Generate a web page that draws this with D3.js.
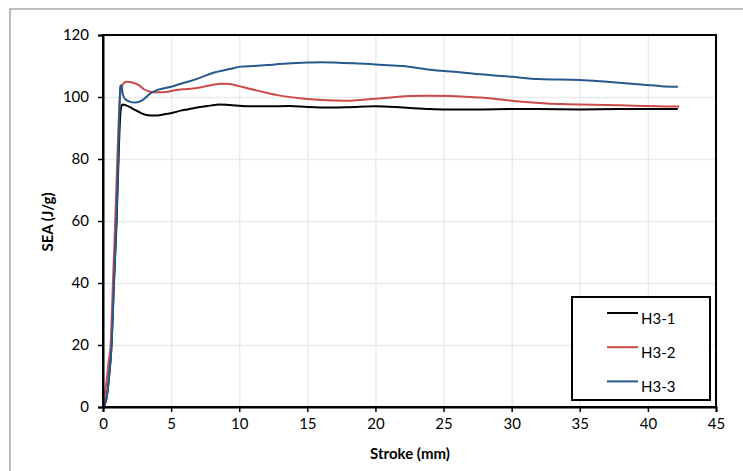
<!DOCTYPE html>
<html>
<head>
<meta charset="utf-8">
<script src="https://cdn.jsdelivr.net/npm/d3@7"></script>
<style>
  body { margin: 0; background: #fff; }
  text { font-family: Lato, "Open Sans", sans-serif; }
</style>
</head>
<body>
<div class="chart"></div>
<script>
// values
const h31X = [0,0.15,0.3,0.45,0.6,0.8,1.0,1.14,1.24,1.32,1.45,1.7,2.2,2.8,3.3,3.8,4.5,5.2,5.7,6.2,7,8,8.5,9.3,10.5,12,13.7,15,16.7,18,20,22,24,25,27.7,30,32,35,38,42.2];
const h31Y = [0,1,4,10,18,40,60,80,92,96.5,97.6,97.3,96.2,94.8,94.1,94,94.4,95,95.6,96,96.7,97.3,97.6,97.4,97,97,97.1,96.8,96.6,96.7,97,96.6,96.1,96,96,96.1,96.1,96,96.1,96.1];

const h32X = [0,0.1,0.25,0.4,0.56,0.73,0.9,1.05,1.15,1.25,1.4,1.7,2.2,2.6,3.0,3.4,4.0,4.6,5.3,6.2,7,8,8.7,9.3,10,10.6,11.7,12.8,14.5,15.5,17,18,19.3,20.5,21.5,22.5,24,25.5,26.5,27.7,29,30,31.5,32.6,34,35,37,39,40,42.3];
const h32Y = [0,3,8,14,20,40,60,80,92,100,103.5,104.9,104.6,103.9,102.5,101.8,101.5,101.6,102.2,102.6,103,103.9,104.3,104.2,103.5,102.8,101.7,100.6,99.6,99.2,98.9,98.8,99.2,99.6,100,100.3,100.4,100.3,100.1,99.8,99.3,98.8,98.2,97.9,97.7,97.6,97.4,97.2,97.1,96.9];

const h33X = [0,0.15,0.3,0.45,0.63,0.81,0.98,1.12,1.2,1.27,1.35,1.45,1.6,1.9,2.4,2.9,3.5,4.0,5.0,5.65,6.3,7,8.1,9.3,10.1,11,12,13.5,15,16,17,18.5,20.3,22,24,26.2,27.7,30,32,35,37,39.9,41,42.2];
const h33Y = [0,1,4,10,20,40,60,80,95,103.5,103.8,101,99.5,98.6,98.2,99,101.2,102.3,103.3,104.2,105,106,107.8,109,109.8,110,110.3,110.8,111.1,111.2,111.1,110.9,110.4,110,108.8,108,107.3,106.5,105.8,105.5,104.9,103.9,103.5,103.3];

const seriesNames = ["H3-1", "H3-2", "H3-3"];
const seriesColors = ["#000000", "#cc4a48", "#27598c"];
const xTicks = [0,5,10,15,20,25,30,35,40,45];
const yTicks = [0,20,40,60,80,100,120];

const series = [[h31X, h31Y], [h32X, h32Y], [h33X, h33Y]].map(([xs, ys], i) => ({
  name: seriesNames[i],
  color: seriesColors[i],
  values: xs.map((x, j) => ({x: x, y: ys[j]}))
}));

const W = 743, H = 471;
const margin = {top: 35, right: 27, bottom: 64, left: 103};
const width = W - margin.left - margin.right, height = H - margin.top - margin.bottom;

const root = d3.select('.chart')
  .append('svg')
  .attr('width', W)
  .attr('height', H);

// outer chart frame (runs off the right/bottom of the picture)
root.append('rect')
  .attr('x', 10).attr('y', 9)
  .attr('width', W + 20).attr('height', H + 20)
  .attr('fill', 'none')
  .attr('stroke', '#a6a6a6')
  .attr('stroke-width', 1.5);

const svg = root.append('g')
  .attr('transform', `translate(${margin.left},${margin.top})`);

const x = d3.scaleLinear().domain([0, 45]).range([0, width]);
const y = d3.scaleLinear().domain([0, 120]).range([height, 0]);

// gridlines
svg.append('g')
  .attr('class', 'grid')
  .call(d3.axisLeft(y).tickValues(yTicks).tickSize(-width).tickFormat(''))
  .call(g => g.select('.domain').remove())
  .call(g => g.selectAll('line').attr('stroke', '#ebebeb').attr('stroke-width', 1.5));

svg.append('g')
  .attr('class', 'grid')
  .attr('transform', `translate(0,${height})`)
  .call(d3.axisBottom(x).tickValues(xTicks).tickSize(-height).tickFormat(''))
  .call(g => g.select('.domain').remove())
  .call(g => g.selectAll('line').attr('stroke', '#ebebeb').attr('stroke-width', 1.5));

// plot frame
svg.append('rect')
  .attr('width', width).attr('height', height)
  .attr('fill', 'none')
  .attr('stroke', '#000')
  .attr('stroke-width', 2);

const line = d3.line()
  .x(d => x(d.x))
  .y(d => y(d.y))
  .curve(d3.curveMonotoneX);

svg.selectAll('.series')
  .data(series)
  .enter()
  .append('path')
  .attr('class', 'series')
  .attr('d', d => line(d.values))
  .attr('fill', 'none')
  .attr('stroke', d => d.color)
  .attr('stroke-width', 2);

const xAxis = d3.axisBottom(x).tickValues(xTicks).tickSize(5).tickPadding(6);
const yAxis = d3.axisLeft(y).tickValues(yTicks).tickSize(5).tickPadding(9);

svg.append('g')
  .attr('class', 'axis x-axis')
  .attr('transform', `translate(0,${height})`)
  .call(xAxis)
  .call(g => g.select('.domain').attr('stroke-width', 2))
  .call(g => g.selectAll('line').attr('stroke-width', 1.5))
  .call(g => g.selectAll('text').attr('font-size', 15).attr('fill', '#000')
    .attr('font-family', 'Lato, sans-serif'));

svg.append('g')
  .attr('class', 'axis y-axis')
  .call(yAxis)
  .call(g => g.select('.domain').attr('stroke-width', 2))
  .call(g => g.selectAll('line').attr('stroke-width', 1.5))
  .call(g => g.selectAll('text').attr('font-size', 15).attr('fill', '#000')
    .attr('font-family', 'Lato, sans-serif'));

// axis titles
root.append('text')
  .attr('x', 410)
  .attr('y', 455)
  .attr('text-anchor', 'middle')
  .attr('dominant-baseline', 'middle')
  .attr('font-size', 15)
  .attr('font-weight', 'bold')
  .text('Stroke (mm)');

root.append('text')
  .attr('transform', 'translate(49,222) rotate(-90)')
  .attr('text-anchor', 'middle')
  .attr('dominant-baseline', 'middle')
  .attr('font-size', 15)
  .attr('font-weight', 'bold')
  .text('SEA (J/g)');

// legend
const legend = root.append('g').attr('transform', 'translate(572,297)');
legend.append('rect')
  .attr('width', 138).attr('height', 103)
  .attr('fill', '#fff')
  .attr('stroke', '#000')
  .attr('stroke-width', 2);

const items = legend.selectAll('.item')
  .data(series)
  .enter()
  .append('g')
  .attr('class', 'item')
  .attr('transform', (d, i) => `translate(0,${16 + i * 34.2})`);

items.append('line')
  .attr('x1', 35).attr('x2', 66)
  .attr('stroke', d => d.color)
  .attr('stroke-width', 2);

items.append('text')
  .attr('x', 69)
  .attr('y', 7)
  .attr('dominant-baseline', 'middle')
  .attr('font-size', 15)
  .text(d => d.name);
</script>
</body>
</html>
